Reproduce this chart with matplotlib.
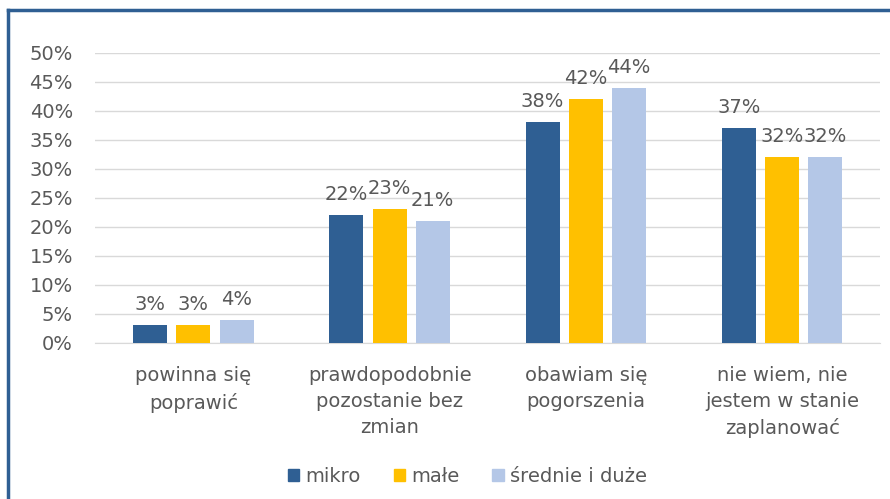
import matplotlib
matplotlib.use("Agg")
import matplotlib.pyplot as plt
import numpy as np
from matplotlib.lines import Line2D

categories = ["powinna się\npoprawić", "prawdopodobnie\npozostanie bez\nzmian",
              "obawiam się\npogorszenia", "nie wiem, nie\njestem w stanie\nzaplanować"]
series_names = ["mikro", "małe", "średnie i duże"]
mikro = [3, 22, 38, 37]
male = [3, 23, 42, 32]
srednie = [4, 21, 44, 32]
yticks = [0, 5, 10, 15, 20, 25, 30, 35, 40, 45, 50]
colors = ["#2F5F93", "#FFC000", "#B4C7E7"]
text_color = "#595959"

fig = plt.figure(figsize=(8.9, 4.99), dpi=100)
ax = fig.add_axes([0.107, 0.313, 0.882, 0.581])

x = np.arange(len(categories))
pitch = 0.22
width = 0.173
for i, (vals, name) in enumerate(zip([mikro, male, srednie], series_names)):
    pos = x + (i - 1) * pitch
    ax.bar(pos, vals, width=width, color=colors[i], label=name, zorder=3)
    for px, v in zip(pos, vals):
        ax.annotate(f"{v}%", (px, v), xytext=(0, 8), textcoords="offset points",
                    ha="center", va="bottom", fontsize=14, color=text_color)

ax.set_xlim(-0.5, len(categories) - 0.5)
ax.set_ylim(0, 50)
ax.set_yticks(yticks)
ax.set_yticklabels([f"{t}%" for t in yticks], fontsize=14, color=text_color)
ax.set_xticks(x)
ax.set_xticklabels(categories, fontsize=14, color=text_color, linespacing=1.45)
ax.tick_params(axis="x", length=0, pad=17)
ax.tick_params(axis="y", length=0, pad=16)
ax.grid(axis="y", color="#D9D9D9", linewidth=1, zorder=0)
for s in ["top", "right", "left"]:
    ax.spines[s].set_visible(False)
ax.spines["bottom"].set_color("#D9D9D9")

handles = [plt.Rectangle((0, 0), 1, 1, color=c) for c in colors]
fig.legend(handles, series_names, loc="center", bbox_to_anchor=(0.525, 0.045),
           ncol=3, frameon=False, fontsize=14, handlelength=0.6, handleheight=0.6,
           handletextpad=0.3, columnspacing=1.7, labelcolor=text_color)

# outer frame
fig.add_artist(Line2D([0.009, 0.009], [0, 0.98], transform=fig.transFigure, color="#2F5F93", linewidth=2.5))
fig.add_artist(Line2D([0.009, 1.0], [0.98, 0.98], transform=fig.transFigure, color="#2F5F93", linewidth=2.5))

fig.savefig("out.png", dpi=100)
